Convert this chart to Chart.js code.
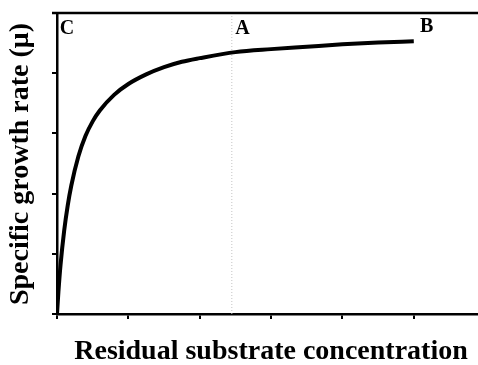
<!DOCTYPE html>
<html>
<head>
<meta charset="utf-8">
<script src="https://cdn.jsdelivr.net/npm/chart.js@4/dist/chart.umd.min.js"></script>
<style>
  html, body { margin: 0; padding: 0; background: #fff; }
  #wrap { width: 478px; height: 365px; }
</style>
</head>
<body>
<div id="wrap"><canvas id="monodChart" width="478" height="365"></canvas></div>
<script>
// Substrate concentration (x) and growth rate (y)
const substrate = [0, 0.02, 0.05, 0.1, 0.15, 0.2, 0.3, 0.4, 0.5, 0.6, 0.8, 1.0, 1.25, 1.5, 1.75, 2.0, 2.5, 3.0, 3.5, 4.0, 4.5, 5.0];
const growthRate = [0, 0.37, 0.82, 1.38, 1.80, 2.13, 2.62, 2.96, 3.20, 3.38, 3.64, 3.82, 3.98, 4.10, 4.19, 4.25, 4.35, 4.40, 4.44, 4.48, 4.51, 4.53];

// Tick positions (no labels in the original)
const xTicks = [0, 1, 2, 3, 4, 5];
const yTicks = [0, 1, 2, 3, 4, 5];

// Dotted marker line at point A
const markerX = [2.45, 2.45];
const markerY = [0, 5];

// Point labels
const pointLabels = ['C', 'A', 'B'];
const pointLabelX = [0.14, 2.6, 5.18];
const pointLabelY = [4.73, 4.73, 4.77];

const xTitle = 'Residual substrate concentration';
const yTitle = 'Specific growth rate (\u03bc)';

const serifBold = "bold 28px 'Liberation Serif', 'Times New Roman', serif";

// Draws axis titles, letters and the top frame line
const annotations = {
    id: 'annotations',
    afterDraw(chart) {
        const { ctx, chartArea, scales } = chart;
        ctx.save();
        ctx.fillStyle = '#000';

        // top frame line
        ctx.strokeStyle = '#000';
        ctx.lineWidth = 2.5;
        ctx.beginPath();
        ctx.moveTo(chartArea.left - 5, chartArea.top);
        ctx.lineTo(chart.width, chartArea.top);
        ctx.stroke();

        // letters
        ctx.font = "bold 20px 'Liberation Serif', 'Times New Roman', serif";
        ctx.textAlign = 'center';
        ctx.textBaseline = 'middle';
        pointLabels.forEach((txt, i) => {
            ctx.fillText(txt, scales.x.getPixelForValue(pointLabelX[i]), scales.y.getPixelForValue(pointLabelY[i]));
        });

        // axis titles
        ctx.font = serifBold;
        ctx.fillText(xTitle, 271, 352);
        ctx.translate(21, 164);
        ctx.rotate(-Math.PI / 2);
        ctx.fillText(yTitle, 0, 0);
        ctx.restore();
    }
};

const ctx = document.getElementById('monodChart').getContext('2d');
const monodChart = new Chart(ctx, {
    type: 'scatter',
    data: {
        datasets: [
            {
                data: substrate.map((s, i) => ({ x: s, y: growthRate[i] })),
                showLine: true,
                borderColor: '#000',
                borderWidth: 4,
                pointRadius: 0,
                cubicInterpolationMode: 'monotone',
                fill: false,
            },
            {
                data: markerX.map((v, i) => ({ x: v, y: markerY[i] })),
                showLine: true,
                borderColor: '#c4c4c4',
                borderWidth: 1,
                borderDash: [1, 2],
                pointRadius: 0,
                fill: false,
            },
        ],
    },
    options: {
        responsive: false,
        animation: false,
        events: [],
        layout: { padding: { top: 13, right: 0, left: 0, bottom: 0 } },
        plugins: {
            legend: { display: false },
            tooltip: { enabled: false },
        },
        scales: {
            x: {
                type: 'linear',
                min: 0,
                max: 5.9,
                afterFit: (scale) => { scale.height = 51; },
                afterBuildTicks: (scale) => { scale.ticks = xTicks.map(v => ({ value: v })); },
                ticks: { display: false },
                grid: { drawOnChartArea: false, drawTicks: true, tickLength: 5, color: '#000', lineWidth: 2 },
                border: { color: '#000', width: 2.5 },
            },
            y: {
                min: 0,
                max: 5,
                afterFit: (scale) => { scale.width = 57; },
                afterBuildTicks: (scale) => { scale.ticks = yTicks.map(v => ({ value: v })); },
                ticks: { display: false },
                grid: { drawOnChartArea: false, drawTicks: true, tickLength: 5, color: '#000', lineWidth: 2 },
                border: { color: '#000', width: 2.5 },
            },
        },
    },
    plugins: [annotations],
});
</script>
</body>
</html>
